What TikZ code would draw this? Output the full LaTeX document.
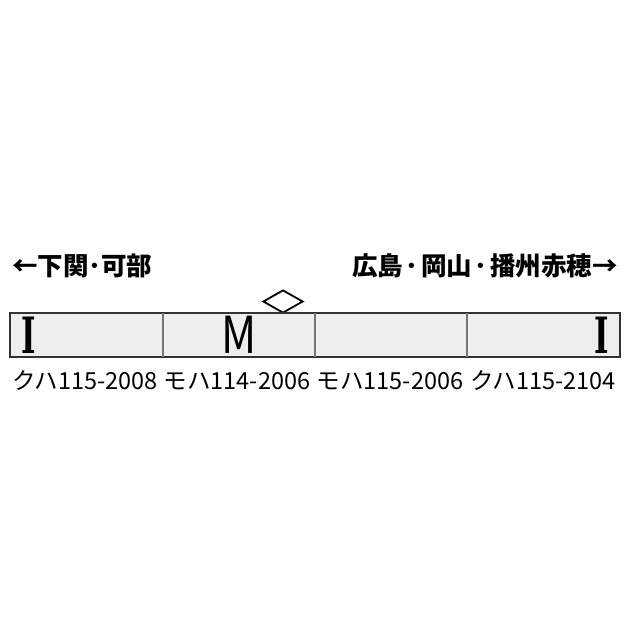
\documentclass[tikz,border=0pt]{standalone}
\usepackage{fontspec}
\setmainfont{Noto Sans CJK JP}
\newfontfamily\serifI{DejaVu Serif}
\usetikzlibrary{shapes.geometric}
\definecolor{carfill}{HTML}{EEEEEE}
\definecolor{carline}{HTML}{333333}
\definecolor{divline}{HTML}{777777}
\newcommand\dotgap{\hspace{2.6pt}}
\tikzset{
  dirlabel/.style={inner sep=0pt, font=\fontsize{25.5}{28}\selectfont\bfseries},
  carlabel/.style={inner sep=0pt, font=\fontsize{23.5}{26}\selectfont},
  iletter/.style={inner sep=0pt, xscale=0.62, font=\fontsize{50}{54}\selectfont\serifI\bfseries},
  mletter/.style={inner sep=0pt, xscale=0.85, font=\fontsize{51}{54}\selectfont},
  divider/.style={draw=divline, line width=1.5pt},
  unitmark/.style={draw=black, line width=1.8pt, fill=white, diamond, inner sep=0pt, minimum width=40pt, minimum height=23pt}
}
\begin{document}
\begin{tikzpicture}[x=1pt,y=-1pt]
\useasboundingbox (0,0) rectangle (640,640);
\node[dirlabel, anchor=west] (left) at (12,266) {←下関･可部};
\node[dirlabel, anchor=east] (right) at (618,266) {広島\dotgap{}･\dotgap{}岡山\dotgap{}･\dotgap{}播州赤穂→};
\node[unitmark] (dia) at (283,301.5) {};
\draw[fill=carfill, draw=carline, line width=1.8pt] (10,313) coordinate (tl) rectangle (620,357) coordinate (br);
\coordinate (d1t) at (163,313); \coordinate (d1b) at (163,357);
\coordinate (d2t) at (315,313); \coordinate (d2b) at (315,357);
\coordinate (d3t) at (467,313); \coordinate (d3b) at (467,357);
\draw[divider] (d1t) -- (d1b);
\draw[divider] (d2t) -- (d2b);
\draw[divider] (d3t) -- (d3b);
\node[iletter, anchor=base] (i1) at (28.5,353) {I};
\node[mletter, anchor=base] (m) at (239,353) {M};
\node[iletter, anchor=base] (i2) at (602,353) {I};
\node[carlabel] (c1) at (85,381) {クハ115-2008};
\node[carlabel] (c2) at (237,381) {モハ114-2006};
\node[carlabel] (c3) at (390,381) {モハ115-2006};
\node[carlabel] (c4) at (543,381) {クハ115-2104};
\end{tikzpicture}
\end{document}
